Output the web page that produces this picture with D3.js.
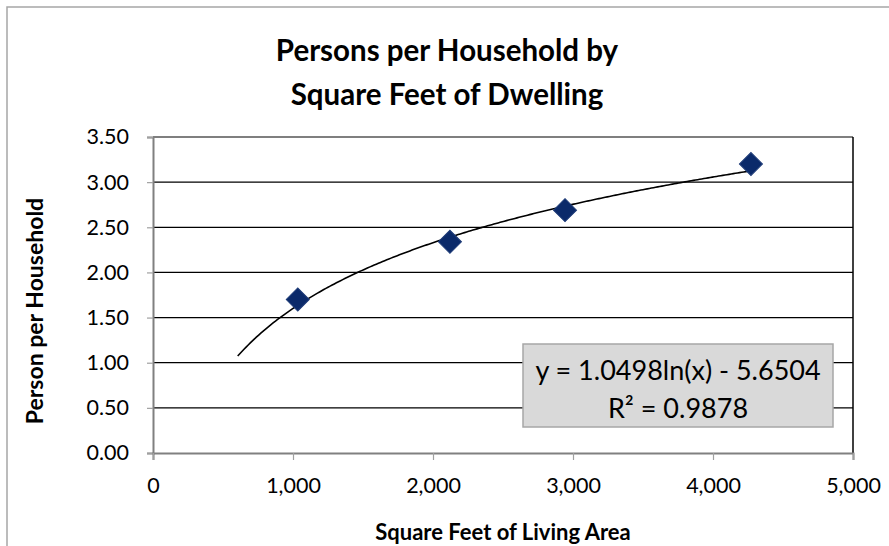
<!DOCTYPE html>
<html>
<head>
<meta charset="utf-8">
<script src="https://cdn.jsdelivr.net/npm/d3@7"></script>
<style>
  body { margin: 0; background: #fff; }
  svg { display: block; font-family: Lato, "Open Sans", sans-serif; }
</style>
</head>
<body>
<svg id="chart" width="889" height="546"></svg>
<script>
// data
const sqft = [1034, 2121, 2943, 4271];
const persons = [1.70, 2.34, 2.69, 3.20];
const xTicks = [0, 1000, 2000, 3000, 4000, 5000];
const yTicks = [0, 0.5, 1, 1.5, 2, 2.5, 3, 3.5];

// log trendline as printed on the chart
const trendA = 1.0498;
const trendB = -5.6504;
const trendR2 = 0.9878;
const trendStart = 605;
const trendEnd = 4271;

const svg = d3.select("#chart");
const width = 889, height = 546;
const margin = { top: 137, right: 36, bottom: 93, left: 153 };

// outer chart border (runs off the right/bottom edge)
svg.append("rect")
  .attr("x", 7).attr("y", 7)
  .attr("width", 1000).attr("height", 1000)
  .attr("fill", "#fff")
  .attr("stroke", "#a6a6a6")
  .attr("stroke-width", 1.5);

const x = d3.scaleLinear().domain([0, 5000]).range([margin.left, width - margin.right]);
const y = d3.scaleLinear().domain([0, 3.5]).range([height - margin.bottom, margin.top]);

// gridlines
svg.append("g")
  .selectAll("line")
  .data(yTicks.filter(d => d > 0))
  .join("line")
  .attr("x1", x(0)).attr("x2", x(5000))
  .attr("y1", d => y(d)).attr("y2", d => y(d))
  .attr("stroke", "#000")
  .attr("stroke-width", 1.2);

// right plot border
svg.append("line")
  .attr("x1", x(5000)).attr("x2", x(5000))
  .attr("y1", y(3.5)).attr("y2", y(0))
  .attr("stroke", "#000")
  .attr("stroke-width", 1.5);

// axes
const yAxis = svg.append("g")
  .attr("transform", `translate(${x(0)},0)`)
  .call(d3.axisLeft(y).tickValues(yTicks).tickFormat(d3.format(".2f")).tickSize(6).tickPadding(18));

const xAxis = svg.append("g")
  .attr("transform", `translate(0,${y(0)})`)
  .call(d3.axisBottom(x).tickValues(xTicks).tickFormat(d3.format(",")).tickSize(7).tickPadding(18));

[xAxis, yAxis].forEach(g => {
  g.select(".domain").attr("stroke", "#808080").attr("stroke-width", 2);
  g.selectAll(".tick line").attr("stroke", "#a0a0a0").attr("stroke-width", 1.2);
  g.selectAll("text").attr("fill", "#000").style("font-size", "21.5px").style("font-family", "Lato");
});

// trendline
const trendX = d3.range(trendStart, trendEnd, 15).concat([trendEnd]);
const line = d3.line()
  .x(d => x(d))
  .y(d => y(trendA * Math.log(d) + trendB));

svg.append("path")
  .datum(trendX)
  .attr("d", line)
  .attr("fill", "none")
  .attr("stroke", "#000")
  .attr("stroke-width", 1.6);

// diamond markers
const diamond = d3.symbol().type(d3.symbolSquare).size(265);
svg.append("g")
  .selectAll("path")
  .data(sqft.map((d, i) => [d, persons[i]]))
  .join("path")
  .attr("d", diamond)
  .attr("transform", d => `translate(${x(d[0])},${y(d[1])}) rotate(45)`)
  .attr("fill", "#0b2a6a")
  .attr("stroke", "#1f3c78")
  .attr("stroke-width", 1);

// equation box
const box = svg.append("g");
box.append("rect")
  .attr("x", 523).attr("y", 344)
  .attr("width", 310).attr("height", 83)
  .attr("fill", "#d9d9d9")
  .attr("stroke", "#a6a6a6")
  .attr("stroke-width", 1.5);
box.append("text")
  .attr("x", 678).attr("y", 380)
  .attr("text-anchor", "middle")
  .style("font-size", "27px")
  .text(`y = ${trendA}ln(x) - ${Math.abs(trendB)}`);
box.append("text")
  .attr("x", 678).attr("y", 418)
  .attr("text-anchor", "middle")
  .style("font-size", "27px")
  .text(`R² = ${trendR2}`);

// titles
const title = svg.append("text")
  .attr("x", 447)
  .attr("text-anchor", "middle")
  .style("font-size", "29.5px")
  .style("font-weight", "bold");
title.append("tspan").attr("x", 447).attr("y", 61).text("Persons per Household by");
title.append("tspan").attr("x", 447).attr("y", 105).text("Square Feet of Dwelling");

svg.append("text")
  .attr("x", (x(0) + x(5000)) / 2)
  .attr("y", 540)
  .attr("text-anchor", "middle")
  .style("font-size", "22px")
  .style("font-weight", "bold")
  .text("Square Feet of Living Area");

svg.append("text")
  .attr("transform", "translate(43,311) rotate(-90)")
  .attr("text-anchor", "middle")
  .style("font-size", "23px")
  .style("font-weight", "bold")
  .text("Person per Household");
</script>
</body>
</html>
